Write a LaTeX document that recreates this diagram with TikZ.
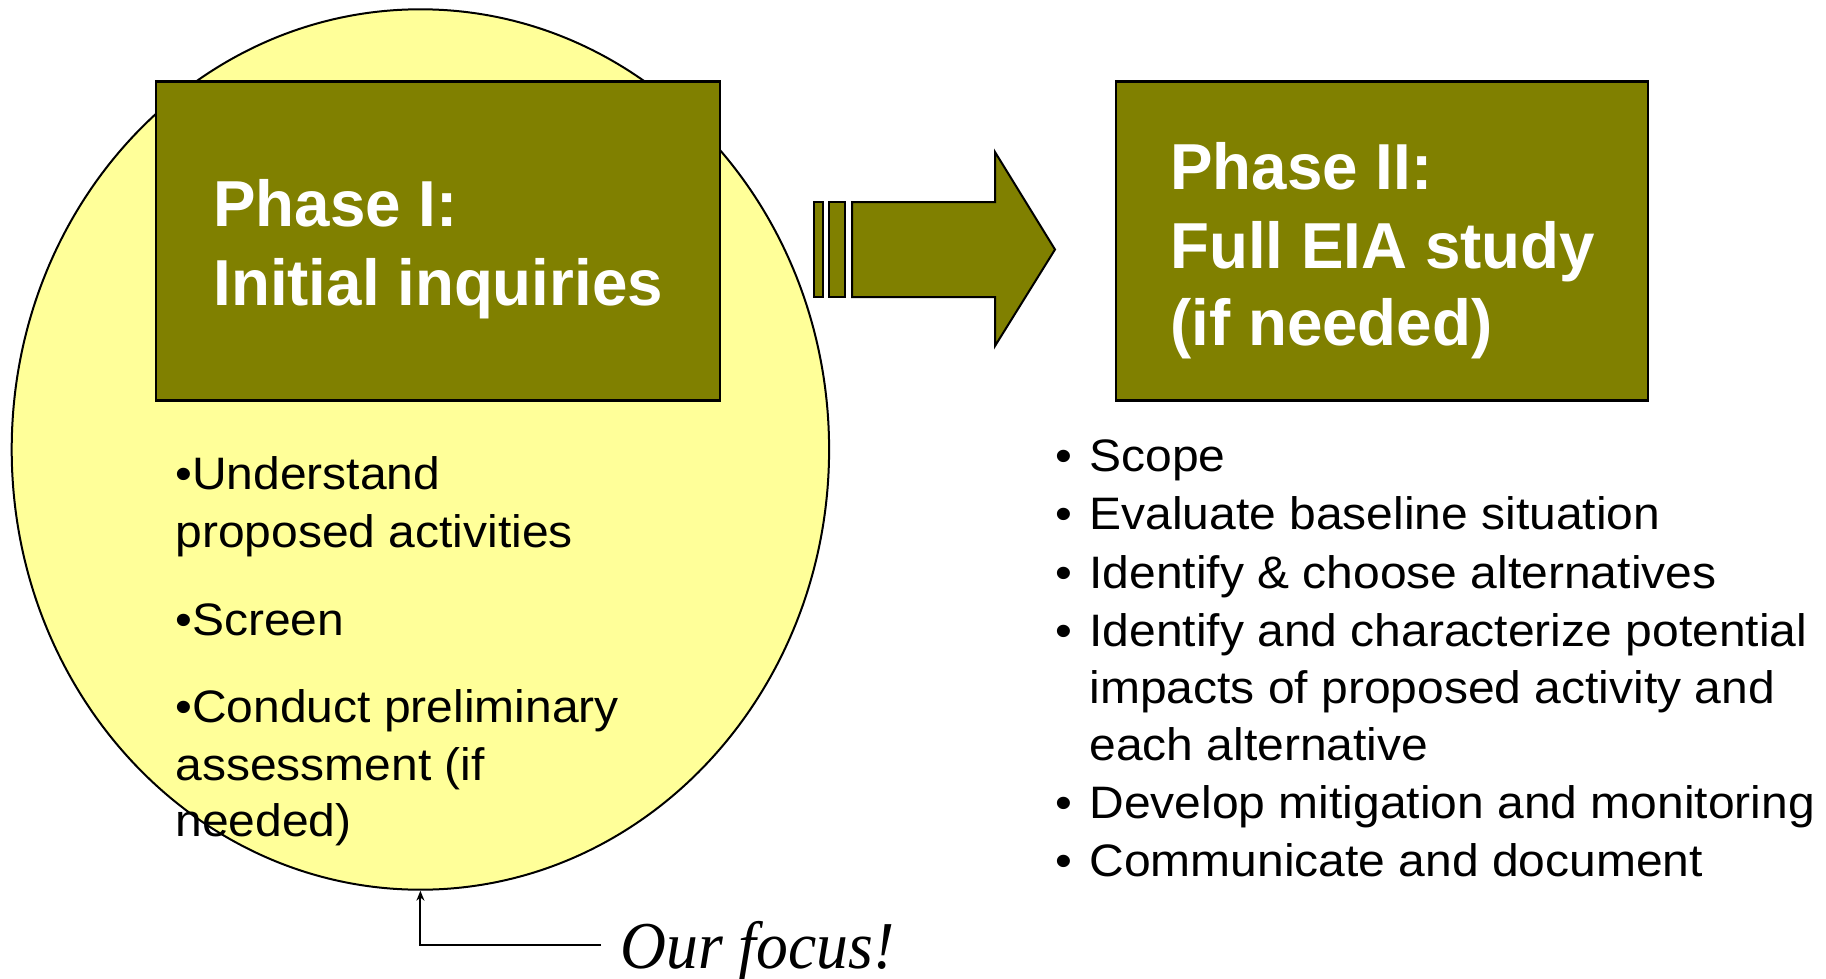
\documentclass[tikz,border=0pt]{standalone}
\usepackage{fontspec}
\setmainfont{Liberation Sans}
\newfontfamily\titlefont[FakeStretch=0.98]{Liberation Sans}
\newfontfamily\listfont[FakeStretch=1.055]{Liberation Sans}
\newfontfamily\focusfont[FakeStretch=0.95]{Liberation Serif}
\usetikzlibrary{shapes.geometric,arrows.meta}
\definecolor{olivebox}{HTML}{808000}
\definecolor{paleyellow}{HTML}{FFFF99}
\tikzset{
  phasebox/.style={draw=black, line width=1.2pt, fill=olivebox, inner sep=0pt, minimum height=159.5pt},
  titletext/.style={font=\titlefont\fontsize{32.5}{39}\selectfont\bfseries, text=white, anchor=base west, inner sep=0pt},
  itemtext/.style={font=\listfont\fontsize{22.75}{29}\selectfont, anchor=base west, inner sep=0pt},
  arrowpart/.style={draw=black, line width=1pt, fill=olivebox},
}
\begin{document}
\begin{tikzpicture}[x=0.5pt,y=-0.5pt]
\useasboundingbox (0,0) rectangle (1826,979);
% focus ellipse
\node[ellipse, draw=black, line width=1pt, fill=paleyellow, minimum width=408.7pt, minimum height=440.2pt, inner sep=0pt] (ell) at (420.4,449.5) {};
% phase boxes
\node[phasebox, minimum width=282pt] (p1) at (438,241) {};
\node[phasebox, minimum width=266pt] (p2) at (1381.7,241) {};
\node[titletext] (p1a) at (213,227) {Phase I:};
\node[titletext] (p1b) at (213,305) {Initial inquiries};
\node[titletext] (p2a) at (1170,190) {Phase II:};
\node[titletext] (p2b) at (1170,268) {Full EIA study};
\node[titletext] (p2c) at (1170,345) {(if needed)};
% big arrow
\draw[arrowpart] (814,202) rectangle (823,297);
\draw[arrowpart] (829,202) rectangle (845,297);
\draw[arrowpart] (852,202) -- (995,202) -- (995,152) -- (1055,249.5) -- (995,346) -- (995,297) -- (852,297) -- cycle;
% left list
\node[itemtext] (l1) at (175,489) {•Understand};
\node[itemtext] (l2) at (175,547) {proposed activities};
\node[itemtext] (l3) at (175,635) {•Screen};
\node[itemtext] (l4) at (175,722) {•Conduct preliminary};
\node[itemtext] (l5) at (175,780) {assessment (if};
\node[itemtext] (l6) at (175,836) {needed)};
% right list
\foreach \y/\t [count=\i] in {471.6/Scope, 529.8/Evaluate baseline situation, 588/Identify \& choose alternatives, 646.3/Identify and characterize potential, 818.7/Develop mitigation and monitoring, 876.9/Communicate and document}{
  \node[itemtext] (rb\i) at (1055,\y) {•};
  \node[itemtext] (r\i) at (1089,\y) {\t};
}
\node[itemtext] (r4b) at (1089,703.4) {impacts of proposed activity and};
\node[itemtext] (r4c) at (1089,760.4) {each alternative};
% our focus
\node[font=\focusfont\fontsize{33.5}{39}\selectfont\itshape, anchor=base west, inner sep=0pt] (focus) at (620,968) {Our focus!};
\coordinate (fc) at (601,945);
\draw[line width=1pt, -{Stealth[length=5pt,width=4pt]}] (fc) -| (ell.south);
\end{tikzpicture}
\end{document}
